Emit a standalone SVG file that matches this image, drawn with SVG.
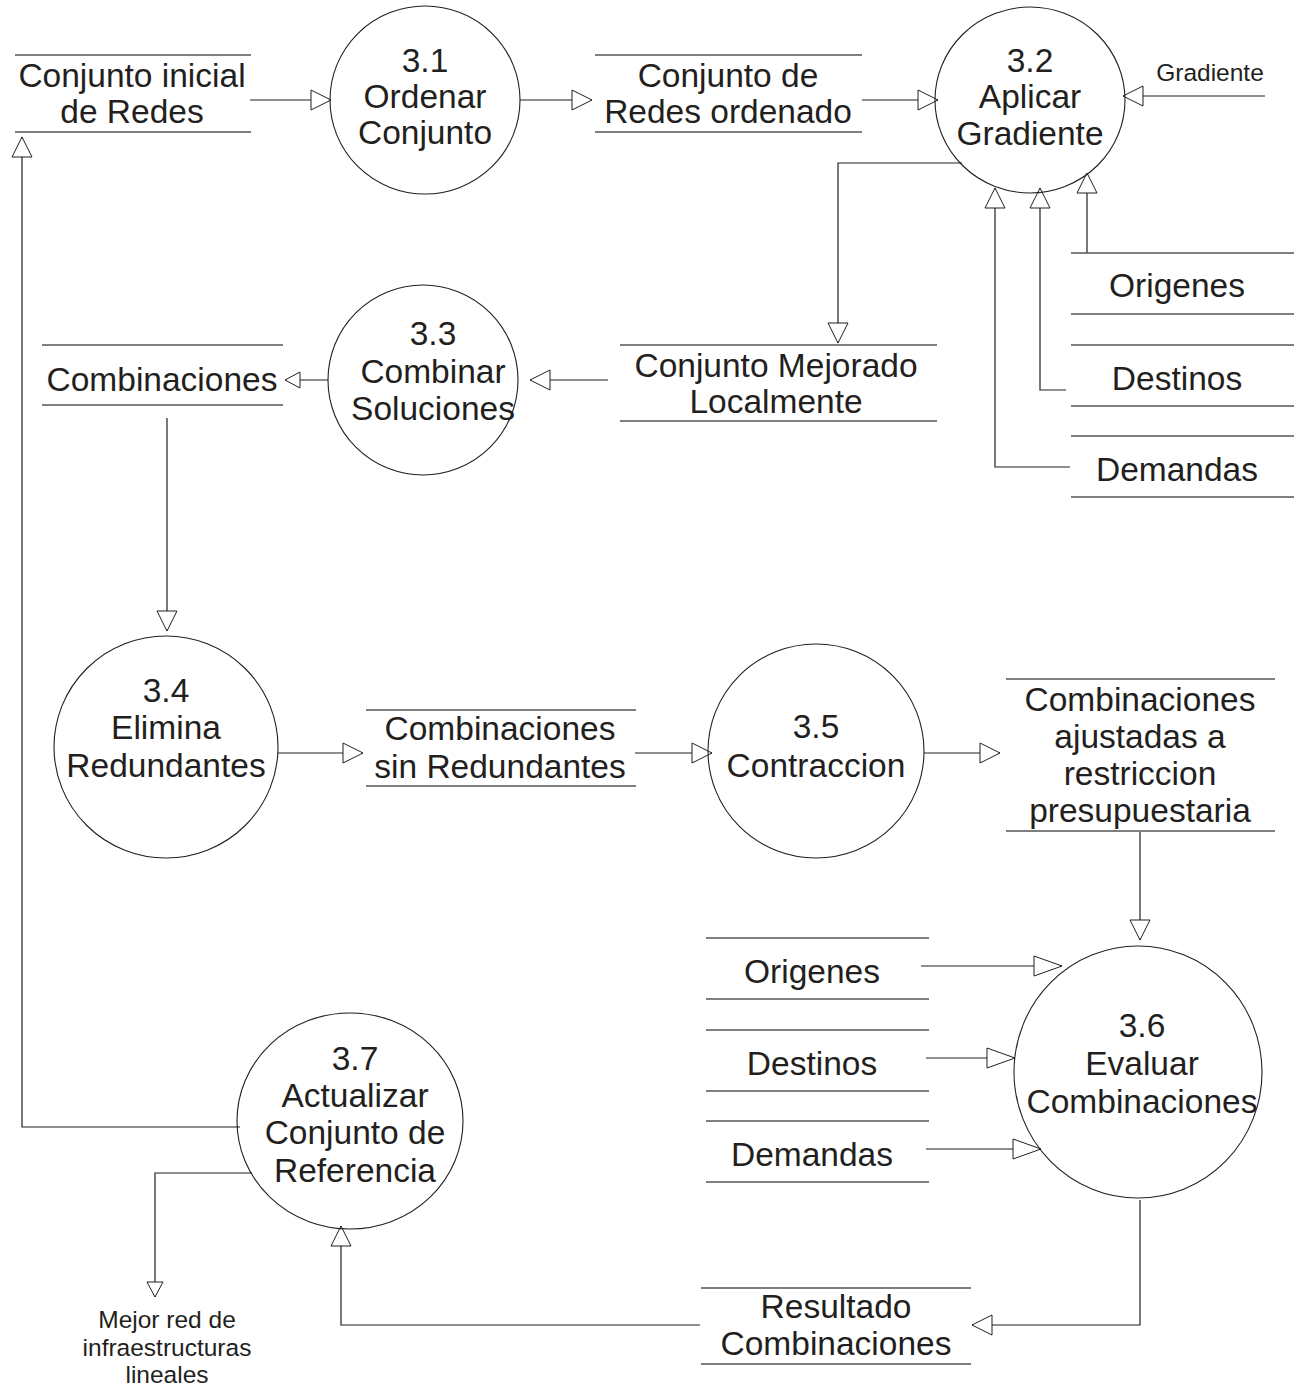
<svg xmlns="http://www.w3.org/2000/svg" width="1302" height="1390" viewBox="0 0 1302 1390">
  <style>
    .bg { fill: #ffffff; }
    .proc { fill: none; stroke: #231f20; stroke-width: 1.1; }
    .store { stroke: #555555; stroke-width: 1.6; fill: none; }
    .flow { fill: none; stroke: #231f20; stroke-width: 1.2; }
    text { font-family: "Liberation Sans", Arial, sans-serif; fill: #231f20; text-anchor: middle; }
    .big { font-size: 33.5px; }
    .small { font-size: 24.5px; }
  </style>
  <defs>
    <marker id="arr" viewBox="0 0 22 22" refX="21" refY="11" markerWidth="22" markerHeight="22" markerUnits="userSpaceOnUse" orient="auto">
      <path d="M1,1 L21,11 L1,21 Z" fill="#ffffff" stroke="#231f20" stroke-width="1"/>
    </marker>
    <marker id="arrS" viewBox="0 0 17 18" refX="16" refY="9" markerWidth="17" markerHeight="18" markerUnits="userSpaceOnUse" orient="auto">
      <path d="M1,1 L16,9 L1,17 Z" fill="#ffffff" stroke="#231f20" stroke-width="1"/>
    </marker>
    <marker id="arrL" viewBox="0 0 30 22" refX="29" refY="11" markerWidth="30" markerHeight="22" markerUnits="userSpaceOnUse" orient="auto">
      <path d="M1,1 L29,11 L1,21 Z" fill="#ffffff" stroke="#231f20" stroke-width="1"/>
    </marker>
  </defs>

  <rect class="bg" x="0" y="0" width="1302" height="1390"/>

  <!-- Connectors -->
  <g id="connectors">
    <path class="flow" d="M250,100 H331" marker-end="url(#arr)"/>
    <path class="flow" d="M520,100 H592" marker-end="url(#arr)"/>
    <path class="flow" d="M862,100 H938" marker-end="url(#arr)"/>
    <path class="flow" d="M1265,96 H1123" marker-end="url(#arr)"/>
    <path class="flow" d="M962,163 H838 V343" marker-end="url(#arr)"/>
    <path class="flow" d="M1087,253 V173" marker-end="url(#arr)"/>
    <path class="flow" d="M1066,390 H1040 V188" marker-end="url(#arr)"/>
    <path class="flow" d="M1070,467 H995 V188" marker-end="url(#arr)"/>
    <path class="flow" d="M608,380 H530" marker-end="url(#arr)"/>
    <path class="flow" d="M328,380 H285" marker-end="url(#arrS)"/>
    <path class="flow" d="M167,418 V631" marker-end="url(#arr)"/>
    <path class="flow" d="M278,753 H363" marker-end="url(#arr)"/>
    <path class="flow" d="M635,753 H712" marker-end="url(#arr)"/>
    <path class="flow" d="M924,753 H1000" marker-end="url(#arr)"/>
    <path class="flow" d="M1140,832 V940" marker-end="url(#arr)"/>
    <path class="flow" d="M921,966 H1062" marker-end="url(#arrL)"/>
    <path class="flow" d="M926,1058 H1015" marker-end="url(#arrL)"/>
    <path class="flow" d="M926,1149 H1041" marker-end="url(#arrL)"/>
    <path class="flow" d="M1140,1200 V1325 H972" marker-end="url(#arr)"/>
    <path class="flow" d="M700,1325 H341 V1226" marker-end="url(#arr)"/>
    <path class="flow" d="M240,1127 H22 V137" marker-end="url(#arr)"/>
    <path class="flow" d="M252,1173 H155 V1297" marker-end="url(#arrS)"/>
  </g>

  <!-- Processes -->
  <g id="p3_1">
    <ellipse class="proc" cx="425" cy="100" rx="95" ry="94"/>
    <text class="big" x="425" y="72">3.1</text>
    <text class="big" x="425" y="108">Ordenar</text>
    <text class="big" x="425" y="144">Conjunto</text>
  </g>
  <g id="p3_2">
    <ellipse class="proc" cx="1030" cy="100" rx="95" ry="93"/>
    <text class="big" x="1030" y="72">3.2</text>
    <text class="big" x="1030" y="108">Aplicar</text>
    <text class="big" x="1030" y="145">Gradiente</text>
  </g>
  <g id="p3_3">
    <ellipse class="proc" cx="423" cy="380" rx="95" ry="95"/>
    <text class="big" x="433" y="345">3.3</text>
    <text class="big" x="433" y="383">Combinar</text>
    <text class="big" x="433" y="420">Soluciones</text>
  </g>
  <g id="p3_4">
    <ellipse class="proc" cx="166" cy="747" rx="112" ry="111"/>
    <text class="big" x="166" y="702">3.4</text>
    <text class="big" x="166" y="739">Elimina</text>
    <text class="big" x="166" y="777">Redundantes</text>
  </g>
  <g id="p3_5">
    <ellipse class="proc" cx="816" cy="751" rx="108" ry="107"/>
    <text class="big" x="816" y="738">3.5</text>
    <text class="big" x="816" y="777">Contraccion</text>
  </g>
  <g id="p3_6">
    <ellipse class="proc" cx="1138" cy="1072" rx="124" ry="126"/>
    <text class="big" x="1142" y="1037">3.6</text>
    <text class="big" x="1142" y="1075">Evaluar</text>
    <text class="big" x="1142" y="1113">Combinaciones</text>
  </g>
  <g id="p3_7">
    <ellipse class="proc" cx="350" cy="1121" rx="113" ry="108"/>
    <text class="big" x="355" y="1070">3.7</text>
    <text class="big" x="355" y="1107">Actualizar</text>
    <text class="big" x="355" y="1144">Conjunto de</text>
    <text class="big" x="355" y="1182">Referencia</text>
  </g>

  <!-- Data stores -->
  <g id="s_conjunto_inicial">
    <path class="store" d="M15,55 H251 M15,132 H251"/>
    <text class="big" x="132" y="87">Conjunto inicial</text>
    <text class="big" x="132" y="123">de Redes</text>
  </g>
  <g id="s_redes_ordenado">
    <path class="store" d="M595,55 H862 M595,132 H862"/>
    <text class="big" x="728" y="87">Conjunto de</text>
    <text class="big" x="728" y="123">Redes ordenado</text>
  </g>
  <g id="s_origenes_a">
    <path class="store" d="M1071,253 H1294 M1071,314 H1294"/>
    <text class="big" x="1177" y="297">Origenes</text>
  </g>
  <g id="s_destinos_a">
    <path class="store" d="M1071,345 H1294 M1071,406 H1294"/>
    <text class="big" x="1177" y="390">Destinos</text>
  </g>
  <g id="s_demandas_a">
    <path class="store" d="M1071,436 H1294 M1071,497 H1294"/>
    <text class="big" x="1177" y="481">Demandas</text>
  </g>
  <g id="s_mejorado">
    <path class="store" d="M620,345 H937 M620,421 H937"/>
    <text class="big" x="776" y="377">Conjunto Mejorado</text>
    <text class="big" x="776" y="413">Localmente</text>
  </g>
  <g id="s_combinaciones">
    <path class="store" d="M42,345 H283 M42,405 H283"/>
    <text class="big" x="162" y="391">Combinaciones</text>
  </g>
  <g id="s_sin_redundantes">
    <path class="store" d="M366,710 H636 M366,786 H636"/>
    <text class="big" x="500" y="740">Combinaciones</text>
    <text class="big" x="500" y="778">sin Redundantes</text>
  </g>
  <g id="s_ajustadas">
    <path class="store" d="M1006,679 H1275 M1006,831 H1275"/>
    <text class="big" x="1140" y="711">Combinaciones</text>
    <text class="big" x="1140" y="748">ajustadas a</text>
    <text class="big" x="1140" y="785">restriccion</text>
    <text class="big" x="1140" y="822">presupuestaria</text>
  </g>
  <g id="s_origenes_b">
    <path class="store" d="M706,938 H929 M706,999 H929"/>
    <text class="big" x="812" y="983">Origenes</text>
  </g>
  <g id="s_destinos_b">
    <path class="store" d="M706,1030 H929 M706,1091 H929"/>
    <text class="big" x="812" y="1075">Destinos</text>
  </g>
  <g id="s_demandas_b">
    <path class="store" d="M706,1121 H929 M706,1182 H929"/>
    <text class="big" x="812" y="1166">Demandas</text>
  </g>
  <g id="s_resultado">
    <path class="store" d="M701,1288 H971 M701,1364 H971"/>
    <text class="big" x="836" y="1318">Resultado</text>
    <text class="big" x="836" y="1355">Combinaciones</text>
  </g>

  <!-- External entities -->
  <g id="e_gradiente">
    <text class="small" x="1210" y="81">Gradiente</text>
  </g>
  <g id="e_mejor_red">
    <text class="small" x="167" y="1328">Mejor red de</text>
    <text class="small" x="167" y="1356">infraestructuras</text>
    <text class="small" x="167" y="1383">lineales</text>
  </g>
</svg>
